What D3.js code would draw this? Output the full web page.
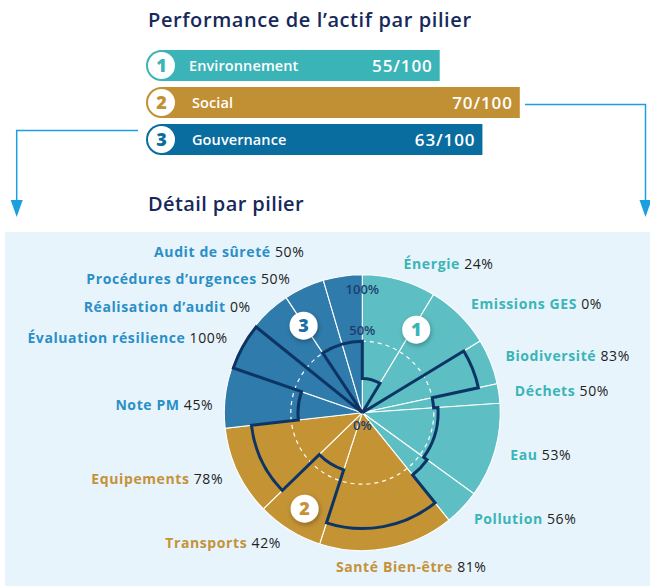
<html>
<head>
<meta charset="utf-8">
<script src="https://d3js.org/d3.v7.min.js"></script>
<style>
  body { margin: 0; background: #fff; }
  text { font-family: 'Open Sans', sans-serif; }
</style>
</head>
<body>
<svg id="chart" width="650" height="586"></svg>
<script>
// pillar scores
const pillars = ['Environnement', 'Social', 'Gouvernance']
const pillarScores = [55, 70, 63]

// criteria of the detail chart, clockwise from 12 o'clock
const criteria = ['Énergie', 'Emissions GES', 'Biodiversité', 'Déchets', 'Eau', 'Pollution',
                  'Santé Bien-être', 'Transports', 'Equipements',
                  'Note PM', 'Évaluation résilience', 'Réalisation d\u2019audit', 'Procédures d\u2019urgences', 'Audit de sûreté']
const criteriaPillar = [0, 0, 0, 0, 0, 0, 1, 1, 1, 2, 2, 2, 2, 2]
const criteriaValues = [24, 0, 83, 50, 53, 56, 81, 42, 78, 45, 100, 0, 50, 50]
// weight of each criterion = angular share of the wheel
const criteriaWeights = [31.1, 27.6, 19.2, 8.2, 39.9, 15.1, 56.9, 27.8, 37.7, 25.6, 19.8, 17.6, 17.1, 16.4]
const radialTicks = [0, 50, 100]

const barColors = ['#3bb4b7', '#c29034', '#0a6d9f']
const wedgeColors = ['#5dbfc3', '#c49334', '#2f7bab']
const labelColors = ['#3ab5b8', '#c4923a', '#2a8fc6']
const navy = '#0c3566'
const arrowBlue = '#1aa0e0'

const svg = d3.select('svg#chart')

const defs = svg.append('defs')
const shadow = defs.append('filter').attr('id', 'shadow')
  .attr('x', '-50%').attr('y', '-50%').attr('width', '200%').attr('height', '200%')
shadow.append('feDropShadow').attr('dx', 1).attr('dy', 2).attr('stdDeviation', 2.5)
  .attr('flood-color', '#000').attr('flood-opacity', 0.3)

// ---------- top : pillar bars ----------
svg.append('text').attr('x', 148).attr('y', 27)
  .attr('font-size', 20).attr('font-weight', 600).attr('letter-spacing', 0.6).attr('fill', '#17295a')
  .text('Performance de l\u2019actif par pilier')

const xBar = d3.scaleLinear().domain([0, 100]).range([146, 680])
const yBar = d3.scaleBand().domain(pillars).range([50, 155]).paddingInner(0.162)
const capR = yBar.bandwidth() / 2

const bars = svg.append('g').selectAll('g').data(pillars).join('g')
  .attr('transform', d => `translate(0, ${yBar(d)})`)

bars.append('rect')
  .attr('x', xBar(0) + capR)
  .attr('width', (d, i) => xBar(pillarScores[i]) - xBar(0) - capR)
  .attr('height', yBar.bandwidth())
  .attr('fill', (d, i) => barColors[i])
bars.append('circle').attr('cx', xBar(0) + capR).attr('cy', capR).attr('r', capR)
  .attr('fill', (d, i) => barColors[i])
bars.append('circle').attr('cx', xBar(0) + capR).attr('cy', capR).attr('r', capR - 2)
  .attr('fill', '#fff')
bars.append('text').attr('x', xBar(0) + capR).attr('y', capR).attr('dy', '0.36em')
  .attr('text-anchor', 'middle').attr('font-size', 18).attr('font-weight', 800)
  .attr('fill', (d, i) => barColors[i]).text((d, i) => i + 1)
bars.append('text').attr('x', (d, i) => i === 0 ? 189 : 192).attr('y', capR).attr('dy', '0.36em')
  .attr('font-size', 14.5).attr('font-weight', 600).attr('letter-spacing', 0.1).attr('fill', '#fff').text(d => d)
bars.append('text').attr('x', (d, i) => xBar(pillarScores[i]) - 7).attr('y', capR).attr('dy', '0.36em')
  .attr('text-anchor', 'end').attr('font-size', 17).attr('font-weight', 600).attr('letter-spacing', 0.9)
  .attr('fill', '#fff')
  .text((d, i) => pillarScores[i] + '/100')

// arrows
const arrows = svg.append('g').attr('fill', 'none').attr('stroke', arrowBlue).attr('stroke-width', 1.5)
arrows.append('path').attr('d', `M138,130.5 H16.7 V204`)
arrows.append('path').attr('d', `M525,104.5 H645.5 V204`)
svg.append('path').attr('d', 'M10.7,200 L22.7,200 L16.7,217 Z').attr('fill', arrowBlue)
svg.append('path').attr('d', 'M639.5,200 L651.5,200 L645.5,217 Z').attr('fill', arrowBlue)

svg.append('text').attr('x', 148).attr('y', 211)
  .attr('font-size', 20).attr('font-weight', 600).attr('letter-spacing', 0.4).attr('fill', '#17295a')
  .text('Détail par pilier')

// ---------- bottom : detail wheel ----------
svg.append('rect').attr('x', 5).attr('y', 232).attr('width', 645).attr('height', 354).attr('fill', '#e8f4fc')

const cx = 362.3, cy = 412.7, R = 138
const wheel = svg.append('g').attr('transform', `translate(${cx},${cy})`)

const total = d3.sum(criteriaWeights)
const aScale = d3.scaleLinear().domain([0, total]).range([0, 2 * Math.PI])
const ends = Array.from(d3.cumsum(criteriaWeights))
const segs = criteria.map((c, i) => ({
  name: c, pillar: criteriaPillar[i], value: criteriaValues[i],
  a0: aScale(i === 0 ? 0 : ends[i - 1]), a1: aScale(ends[i])
}))
const rScale = d3.scaleLinear().domain([0, 100]).range([0, 143])
const rv = v => Math.min(rScale(v), R - 1.5)

const arc = d3.arc().innerRadius(0).outerRadius(R).startAngle(d => d.a0).endAngle(d => d.a1)
wheel.selectAll('path.wedge').data(segs).join('path').attr('class', 'wedge')
  .attr('d', arc).attr('fill', d => wedgeColors[d.pillar])
  .attr('stroke', '#fff').attr('stroke-width', 1.1)

wheel.append('circle').attr('r', rScale(50)).attr('fill', 'none')
  .attr('stroke', '#fff').attr('stroke-width', 1.2).attr('stroke-dasharray', '4,4')

// value outline
const p = d3.path()
segs.forEach(s => p.arc(0, 0, rv(s.value), s.a0 - Math.PI / 2, s.a1 - Math.PI / 2))
p.closePath()
wheel.append('path').attr('d', p.toString()).attr('fill', 'none')
  .attr('stroke', navy).attr('stroke-width', 3).attr('stroke-linejoin', 'miter')

// radial tick labels
const tickY = { 0: 17, 50: -78, 100: -119 }
wheel.selectAll('text.tick').data(radialTicks).join('text').attr('class', 'tick')
  .attr('x', 0).attr('y', d => tickY[d]).attr('text-anchor', 'middle')
  .attr('font-size', 13).attr('font-weight', 600).attr('fill', '#1c3e6e')
  .text(d => d + '%')

// pillar badges
const badgePos = [[33, 99], [211, 112], [326, 105]]
const badges = wheel.selectAll('g.badge').data(pillars).join('g').attr('class', 'badge')
  .attr('transform', (d, i) => {
    const a = badgePos[i][0] * Math.PI / 180, r = badgePos[i][1]
    return `translate(${r * Math.sin(a)},${-r * Math.cos(a)})`
  })
badges.append('circle').attr('r', 14).attr('fill', '#fff').attr('filter', 'url(#shadow)')
badges.append('text').attr('dy', '0.36em').attr('text-anchor', 'middle')
  .attr('font-size', 18).attr('font-weight', 800)
  .attr('fill', (d, i) => i === 2 ? '#1a6ea5' : labelColors[i]).text((d, i) => i + 1)

// criteria labels
const labelR = 154
const nudge = { 'Note PM': [4, 9], 'Réalisation d\u2019audit': [-8, 8], 'Procédures d\u2019urgences': [-7, 6],
                'Audit de sûreté': [-36, -8], 'Santé Bien-être': [21, 3] }
const labels = wheel.selectAll('text.lab').data(segs).join('text').attr('class', 'lab')
  .each(function (d) {
    const m = (d.a0 + d.a1) / 2
    const n = nudge[d.name] || [0, 0]
    const anchor = d.name === 'Santé Bien-être' ? 'middle' : (m < Math.PI ? 'start' : 'end')
    d3.select(this)
      .attr('x', labelR * Math.sin(m) + n[0])
      .attr('y', -labelR * Math.cos(m) + n[1])
      .attr('dy', '0.36em').attr('text-anchor', anchor).attr('font-size', 14).attr('letter-spacing', 0.6)
  })
labels.append('tspan').attr('font-weight', 700).attr('fill', d => labelColors[d.pillar]).text(d => d.name + ' ')
labels.append('tspan').attr('font-weight', 400).attr('fill', '#222').text(d => (d.name === 'Note PM' ? ' ' : '') + d.value + '%')
</script>
</body>
</html>
